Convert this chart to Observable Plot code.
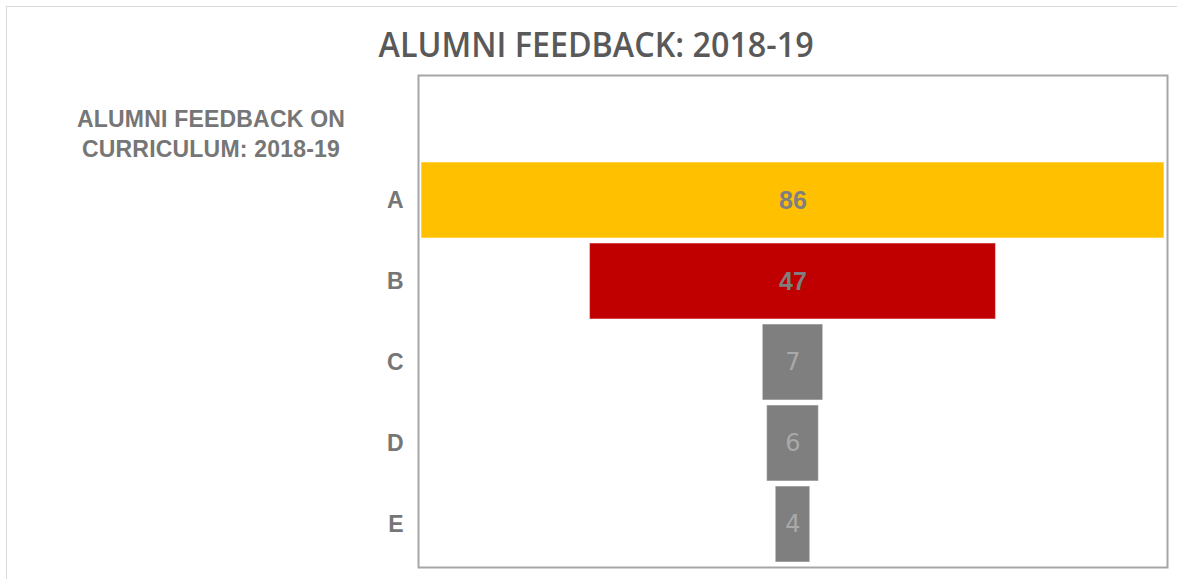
<!DOCTYPE html>
<html>
<head>
<meta charset="utf-8">
<script src="https://cdn.jsdelivr.net/npm/d3@7"></script>
<script src="https://cdn.jsdelivr.net/npm/@observablehq/plot@0.6"></script>
<style>
  html, body { margin: 0; padding: 0; background: #fff; }
  #wrap { position: relative; width: 1177px; height: 579px; overflow: hidden; }
  #border { position: absolute; left: 6px; top: 6px; width: 1300px; height: 700px; border: 1px solid #d9d9d9; box-sizing: border-box; }
  #title { position: absolute; top: 21px; left: 8px; width: 1177px; text-align: center; font-family: "Open Sans", sans-serif; font-weight: 600; font-size: 34px; color: #595959; white-space: nowrap; }
  #title span { display: inline-block; transform-origin: center; }
  #header { position: absolute; left: 51px; width: 320px; top: 104px; text-align: center; font-family: "Liberation Sans", Arial, sans-serif; font-weight: bold; font-size: 23px; line-height: 30px; color: #767676; letter-spacing: 0.2px; }
  #chart { position: absolute; left: 0; top: 0; }
</style>
</head>
<body>
<div id="wrap">
  <div id="border"></div>
  <div id="title"><span id="titletext"></span></div>
  <div id="header"></div>
  <div id="chart"></div>
</div>
<script>
const chartTitle = "ALUMNI FEEDBACK: 2018-19";
const seriesName = "ALUMNI FEEDBACK ON CURRICULUM: 2018-19";
const headerLines = ["ALUMNI FEEDBACK ON", "CURRICULUM: 2018-19"];
const stages = ["A", "B", "C", "D", "E"];
const values = [86, 47, 7, 6, 4];
const barColors = ["#FFC000", "#C00000", "#7F7F7F", "#7F7F7F", "#7F7F7F"];
const labelColors = ["#7F7F7F", "#7F7F7F", "#A9A9A9", "#A9A9A9", "#A9A9A9"];
const labelWeights = ["bold", "bold", "normal", "normal", "normal"];

const rows = stages.map((s, i) => ({
  stage: s, value: values[i], color: barColors[i],
  labelColor: labelColors[i], weight: labelWeights[i]
}));

document.getElementById("titletext").textContent = chartTitle;
document.getElementById("header").innerHTML = headerLines.join("<br>");

const HEADER = " ";
const maxV = d3.max(values);

const plot = Plot.plot({
  width: 1177,
  height: 579,
  marginLeft: 418,
  marginRight: 10,
  marginTop: 75,
  marginBottom: 12,
  style: { fontFamily: "Liberation Sans, Arial, sans-serif", background: "transparent" },
  x: { domain: [-maxV / 2 - 0.35, maxV / 2 + 0.35], axis: null },
  y: {
    domain: [HEADER, ...stages],
    paddingInner: 0.062,
    paddingOuter: 0.031,
    insetTop: 3.5,
    insetBottom: 2.5,
    label: null
  },
  marks: [
    Plot.frame({ stroke: "#a6a6a6", strokeWidth: 2 }),
    Plot.barX(rows, {
      y: "stage",
      x1: d => -d.value / 2,
      x2: d => d.value / 2,
      fill: d => d.color,
      stroke: "#ffffff",
      strokeOpacity: 0.45,
      strokeWidth: 1.2
    }),
    Plot.text(rows.filter(d => d.weight === "bold"), {
      y: "stage", x: () => 0, text: d => String(d.value),
      fill: d => d.labelColor, fontSize: 25, fontWeight: "bold"
    }),
    Plot.text(rows.filter(d => d.weight !== "bold"), {
      y: "stage", x: () => 0, text: d => String(d.value),
      fill: d => d.labelColor, fontSize: 24, fontWeight: "normal", fontFamily: "DejaVu Sans, sans-serif"
    }),
    Plot.axisY({
      tickSize: 0, tickPadding: 15, fontSize: 23, fontWeight: "bold",
      fill: "#767676", tickFormat: d => d === HEADER ? "" : d, label: null
    })
  ]
});
document.getElementById("chart").appendChild(plot);
plot.querySelectorAll("g[aria-label='y-axis tick label'] text, g[aria-label='y-axis tick label']").forEach(el => {
  el.setAttribute("font-size", "23");
  el.setAttribute("font-weight", "bold");
  el.setAttribute("fill", "#767676");
});

// fit title width to reference
const span = document.getElementById("titletext");
const w = span.getBoundingClientRect().width;
span.style.transform = `scaleX(${435 / w})`;
</script>
</body>
</html>
